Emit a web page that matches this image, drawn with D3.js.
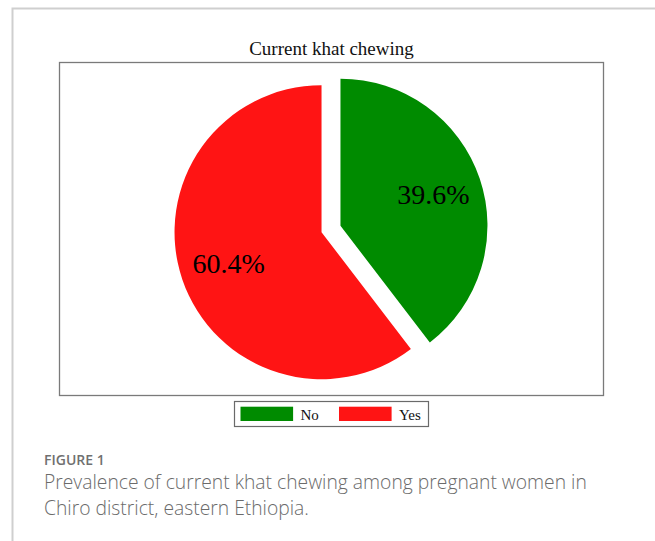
<!DOCTYPE html>
<html>
<head>
<meta charset="utf-8">
<script src="https://cdn.jsdelivr.net/npm/d3@7"></script>
<style>
  body { margin: 0; background: #fff; }
  svg { display: block; }
</style>
</head>
<body>
<div id="chart"></div>
<script>
// data
var categories = ["No", "Yes"];
var values = [39.6, 60.4];
var sliceColors = ["#008b00", "#ff1414"];
var chartTitle = "Current khat chewing";
var figLabel = "FIGURE 1";
var captionLines = ["Prevalence of current khat chewing among pregnant women in",
                    "Chiro district, eastern Ethiopia."];

var W = 655, H = 541;
var svg = d3.select("#chart").append("svg")
    .attr("width", W)
    .attr("height", H);

// card border (top + left)
svg.append("path")
    .attr("d", "M12.5," + H + "V8.5H" + W)
    .attr("fill", "none")
    .attr("stroke", "#cfcfcf")
    .attr("stroke-width", 2);

// plot frame
var box = {x: 59.5, y: 62.5, w: 544, h: 333};
svg.append("rect")
    .attr("x", box.x).attr("y", box.y)
    .attr("width", box.w).attr("height", box.h)
    .attr("fill", "none")
    .attr("stroke", "#7a7a7a")
    .attr("stroke-width", 1.3);

svg.append("text")
    .attr("x", box.x + box.w / 2)
    .attr("y", 55)
    .attr("text-anchor", "middle")
    .style("font-family", "'Liberation Serif', 'Times New Roman', serif")
    .style("font-size", "19px")
    .attr("fill", "#111")
    .text(chartTitle);

// pie
var cx = 331, cy = 229, radius = 147, explode = 10, labelR = 98;
var color = d3.scaleOrdinal().domain(categories).range(sliceColors);
var data = categories.map(function(c, i) { return {cat: c, value: values[i]}; });

var pie = d3.pie().sort(null).value(function(d) { return d.value; });
var arc = d3.arc().innerRadius(0).outerRadius(radius);
var labelArc = d3.arc().innerRadius(labelR).outerRadius(labelR);

function shift(d) {
  var a = (d.startAngle + d.endAngle) / 2;
  return "translate(" + (explode * Math.sin(a)) + "," + (-explode * Math.cos(a)) + ")";
}

var g = svg.append("g").attr("transform", "translate(" + cx + "," + cy + ")");
var slices = g.selectAll(".slice")
    .data(pie(data))
    .enter().append("g")
    .attr("class", "slice")
    .attr("transform", shift);

slices.append("path")
    .attr("d", arc)
    .attr("fill", function(d) { return color(d.data.cat); });

slices.append("text")
    .attr("transform", function(d) { return "translate(" + labelArc.centroid(d) + ")"; })
    .attr("dy", "0.34em")
    .attr("text-anchor", "middle")
    .style("font-family", "'Liberation Serif', 'Times New Roman', serif")
    .style("font-size", "28px")
    .attr("fill", "#000")
    .text(function(d) { return d.data.value.toFixed(1) + "%"; });

// legend
var leg = svg.append("g").attr("transform", "translate(234.5,401.5)");
leg.append("rect")
    .attr("width", 194).attr("height", 25)
    .attr("fill", "#fff")
    .attr("stroke", "#6a6a6a")
    .attr("stroke-width", 1.2);

var items = leg.selectAll(".item")
    .data(categories)
    .enter().append("g")
    .attr("class", "item")
    .attr("transform", function(d, i) { return "translate(" + (6 + i * 98.5) + ",0)"; });

items.append("rect")
    .attr("y", 5.2)
    .attr("width", 52.6).attr("height", 14.3)
    .attr("fill", function(d) { return color(d); });

items.append("text")
    .attr("x", 60)
    .attr("y", 18)
    .style("font-family", "'Liberation Serif', 'Times New Roman', serif")
    .style("font-size", "15px")
    .attr("fill", "#111")
    .text(function(d) { return d; });

// caption
svg.append("text")
    .attr("x", 44).attr("y", 465)
    .style("font-family", "'Open Sans', 'Noto Sans', sans-serif")
    .style("font-size", "14px")
    .style("font-weight", "600")
    .attr("fill", "#707070")
    .text(figLabel);

svg.selectAll(".cap")
    .data(captionLines)
    .enter().append("text")
    .attr("class", "cap")
    .attr("x", 44)
    .attr("y", function(d, i) { return 489 + i * 25.5; })
    .style("font-family", "'Open Sans', 'Noto Sans', sans-serif")
    .style("font-size", "19.3px")
    .style("font-weight", "300")
    .attr("fill", "#6b6b6b")
    .text(function(d) { return d; });
</script>
</body>
</html>
